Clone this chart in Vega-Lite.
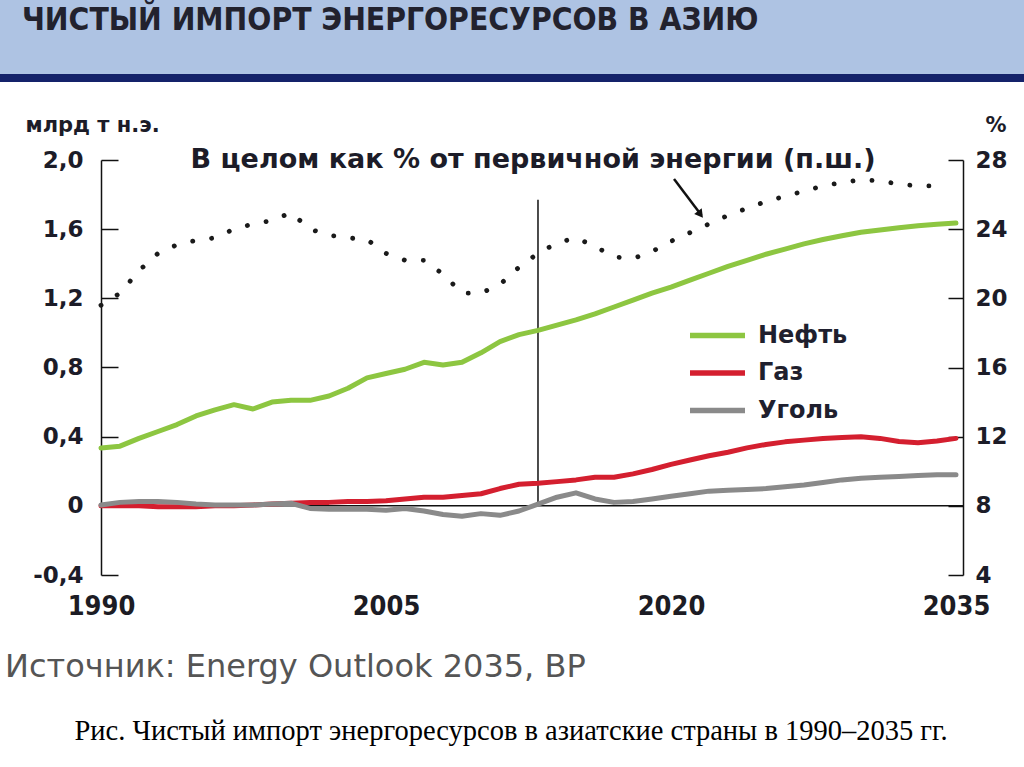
{
  "$schema": "https://vega.github.io/schema/vega-lite/v6.json",
  "width": 1024,
  "height": 415,
  "autosize": {"type": "none"},
  "padding": {"left": 0, "right": 0, "top": 160, "bottom": 192},
  "background": "white",
  "config": {
    "view": {"stroke": null},
    "axis": {"grid": false, "domainColor": "#111", "domainWidth": 1.5, "tickColor": "#111", "tickWidth": 1.5},
    "font": "DejaVu Sans"
  },
  "datasets": {
    "fuels": [
      {"year": 1990, "series": "Нефть", "value": 0.335}, {"year": 1991, "series": "Нефть", "value": 0.345},
      {"year": 1992, "series": "Нефть", "value": 0.39}, {"year": 1993, "series": "Нефть", "value": 0.43},
      {"year": 1994, "series": "Нефть", "value": 0.47}, {"year": 1995, "series": "Нефть", "value": 0.52},
      {"year": 1996, "series": "Нефть", "value": 0.555}, {"year": 1997, "series": "Нефть", "value": 0.585},
      {"year": 1998, "series": "Нефть", "value": 0.56}, {"year": 1999, "series": "Нефть", "value": 0.6},
      {"year": 2000, "series": "Нефть", "value": 0.61}, {"year": 2001, "series": "Нефть", "value": 0.61},
      {"year": 2002, "series": "Нефть", "value": 0.635}, {"year": 2003, "series": "Нефть", "value": 0.68},
      {"year": 2004, "series": "Нефть", "value": 0.74}, {"year": 2005, "series": "Нефть", "value": 0.765},
      {"year": 2006, "series": "Нефть", "value": 0.79}, {"year": 2007, "series": "Нефть", "value": 0.83},
      {"year": 2008, "series": "Нефть", "value": 0.815}, {"year": 2009, "series": "Нефть", "value": 0.83},
      {"year": 2010, "series": "Нефть", "value": 0.885}, {"year": 2011, "series": "Нефть", "value": 0.95},
      {"year": 2012, "series": "Нефть", "value": 0.99}, {"year": 2013, "series": "Нефть", "value": 1.015},
      {"year": 2014, "series": "Нефть", "value": 1.045}, {"year": 2015, "series": "Нефть", "value": 1.075},
      {"year": 2016, "series": "Нефть", "value": 1.11}, {"year": 2017, "series": "Нефть", "value": 1.15},
      {"year": 2018, "series": "Нефть", "value": 1.19}, {"year": 2019, "series": "Нефть", "value": 1.23},
      {"year": 2020, "series": "Нефть", "value": 1.265}, {"year": 2021, "series": "Нефть", "value": 1.305},
      {"year": 2022, "series": "Нефть", "value": 1.345}, {"year": 2023, "series": "Нефть", "value": 1.385},
      {"year": 2024, "series": "Нефть", "value": 1.42}, {"year": 2025, "series": "Нефть", "value": 1.455},
      {"year": 2026, "series": "Нефть", "value": 1.485}, {"year": 2027, "series": "Нефть", "value": 1.515},
      {"year": 2028, "series": "Нефть", "value": 1.54}, {"year": 2029, "series": "Нефть", "value": 1.562},
      {"year": 2030, "series": "Нефть", "value": 1.582}, {"year": 2031, "series": "Нефть", "value": 1.595},
      {"year": 2032, "series": "Нефть", "value": 1.608}, {"year": 2033, "series": "Нефть", "value": 1.62},
      {"year": 2034, "series": "Нефть", "value": 1.628}, {"year": 2035, "series": "Нефть", "value": 1.635},
      {"year": 1990, "series": "Газ", "value": 0.0}, {"year": 1991, "series": "Газ", "value": 0.0},
      {"year": 1992, "series": "Газ", "value": 0.0}, {"year": 1993, "series": "Газ", "value": -0.005},
      {"year": 1994, "series": "Газ", "value": -0.005}, {"year": 1995, "series": "Газ", "value": -0.005},
      {"year": 1996, "series": "Газ", "value": 0.0}, {"year": 1997, "series": "Газ", "value": 0.0},
      {"year": 1998, "series": "Газ", "value": 0.005}, {"year": 1999, "series": "Газ", "value": 0.01},
      {"year": 2000, "series": "Газ", "value": 0.015}, {"year": 2001, "series": "Газ", "value": 0.02},
      {"year": 2002, "series": "Газ", "value": 0.02}, {"year": 2003, "series": "Газ", "value": 0.025},
      {"year": 2004, "series": "Газ", "value": 0.025}, {"year": 2005, "series": "Газ", "value": 0.03},
      {"year": 2006, "series": "Газ", "value": 0.04}, {"year": 2007, "series": "Газ", "value": 0.05},
      {"year": 2008, "series": "Газ", "value": 0.05}, {"year": 2009, "series": "Газ", "value": 0.06},
      {"year": 2010, "series": "Газ", "value": 0.07}, {"year": 2011, "series": "Газ", "value": 0.1},
      {"year": 2012, "series": "Газ", "value": 0.125}, {"year": 2013, "series": "Газ", "value": 0.13},
      {"year": 2014, "series": "Газ", "value": 0.14}, {"year": 2015, "series": "Газ", "value": 0.15},
      {"year": 2016, "series": "Газ", "value": 0.165}, {"year": 2017, "series": "Газ", "value": 0.165},
      {"year": 2018, "series": "Газ", "value": 0.185}, {"year": 2019, "series": "Газ", "value": 0.21},
      {"year": 2020, "series": "Газ", "value": 0.24}, {"year": 2021, "series": "Газ", "value": 0.265},
      {"year": 2022, "series": "Газ", "value": 0.29}, {"year": 2023, "series": "Газ", "value": 0.31},
      {"year": 2024, "series": "Газ", "value": 0.335}, {"year": 2025, "series": "Газ", "value": 0.355},
      {"year": 2026, "series": "Газ", "value": 0.37}, {"year": 2027, "series": "Газ", "value": 0.38},
      {"year": 2028, "series": "Газ", "value": 0.39}, {"year": 2029, "series": "Газ", "value": 0.395},
      {"year": 2030, "series": "Газ", "value": 0.4}, {"year": 2031, "series": "Газ", "value": 0.39},
      {"year": 2032, "series": "Газ", "value": 0.372}, {"year": 2033, "series": "Газ", "value": 0.365},
      {"year": 2034, "series": "Газ", "value": 0.375}, {"year": 2035, "series": "Газ", "value": 0.39},
      {"year": 1990, "series": "Уголь", "value": 0.005}, {"year": 1991, "series": "Уголь", "value": 0.02},
      {"year": 1992, "series": "Уголь", "value": 0.025}, {"year": 1993, "series": "Уголь", "value": 0.025},
      {"year": 1994, "series": "Уголь", "value": 0.02}, {"year": 1995, "series": "Уголь", "value": 0.01},
      {"year": 1996, "series": "Уголь", "value": 0.005}, {"year": 1997, "series": "Уголь", "value": 0.005},
      {"year": 1998, "series": "Уголь", "value": 0.005}, {"year": 1999, "series": "Уголь", "value": 0.01},
      {"year": 2000, "series": "Уголь", "value": 0.015}, {"year": 2001, "series": "Уголь", "value": -0.015},
      {"year": 2002, "series": "Уголь", "value": -0.02}, {"year": 2003, "series": "Уголь", "value": -0.02},
      {"year": 2004, "series": "Уголь", "value": -0.02}, {"year": 2005, "series": "Уголь", "value": -0.025},
      {"year": 2006, "series": "Уголь", "value": -0.015}, {"year": 2007, "series": "Уголь", "value": -0.03},
      {"year": 2008, "series": "Уголь", "value": -0.05}, {"year": 2009, "series": "Уголь", "value": -0.06},
      {"year": 2010, "series": "Уголь", "value": -0.045}, {"year": 2011, "series": "Уголь", "value": -0.055},
      {"year": 2012, "series": "Уголь", "value": -0.03}, {"year": 2013, "series": "Уголь", "value": 0.01},
      {"year": 2014, "series": "Уголь", "value": 0.05}, {"year": 2015, "series": "Уголь", "value": 0.075},
      {"year": 2016, "series": "Уголь", "value": 0.04}, {"year": 2017, "series": "Уголь", "value": 0.02},
      {"year": 2018, "series": "Уголь", "value": 0.025}, {"year": 2019, "series": "Уголь", "value": 0.04},
      {"year": 2020, "series": "Уголь", "value": 0.055}, {"year": 2021, "series": "Уголь", "value": 0.07},
      {"year": 2022, "series": "Уголь", "value": 0.085}, {"year": 2023, "series": "Уголь", "value": 0.09},
      {"year": 2024, "series": "Уголь", "value": 0.095}, {"year": 2025, "series": "Уголь", "value": 0.1},
      {"year": 2026, "series": "Уголь", "value": 0.11}, {"year": 2027, "series": "Уголь", "value": 0.12},
      {"year": 2028, "series": "Уголь", "value": 0.135}, {"year": 2029, "series": "Уголь", "value": 0.15},
      {"year": 2030, "series": "Уголь", "value": 0.16}, {"year": 2031, "series": "Уголь", "value": 0.165},
      {"year": 2032, "series": "Уголь", "value": 0.17}, {"year": 2033, "series": "Уголь", "value": 0.175},
      {"year": 2034, "series": "Уголь", "value": 0.18}, {"year": 2035, "series": "Уголь", "value": 0.18}
    ],
    "share": [
      {"year": 1990, "pct": 19.6}, {"year": 1991, "pct": 20.3}, {"year": 1992, "pct": 21.6},
      {"year": 1993, "pct": 22.6}, {"year": 1994, "pct": 23.1}, {"year": 1995, "pct": 23.35},
      {"year": 1996, "pct": 23.5}, {"year": 1997, "pct": 24.0}, {"year": 1998, "pct": 24.3},
      {"year": 1999, "pct": 24.5}, {"year": 2000, "pct": 24.95}, {"year": 2001, "pct": 24.0},
      {"year": 2002, "pct": 23.65}, {"year": 2003, "pct": 23.5}, {"year": 2004, "pct": 23.4},
      {"year": 2005, "pct": 22.6}, {"year": 2006, "pct": 22.2}, {"year": 2007, "pct": 22.2},
      {"year": 2008, "pct": 21.4}, {"year": 2009, "pct": 20.3}, {"year": 2010, "pct": 20.3},
      {"year": 2011, "pct": 20.8}, {"year": 2012, "pct": 21.8}, {"year": 2013, "pct": 22.6},
      {"year": 2014, "pct": 23.2}, {"year": 2015, "pct": 23.5}, {"year": 2016, "pct": 23.0},
      {"year": 2017, "pct": 22.4}, {"year": 2018, "pct": 22.3}, {"year": 2019, "pct": 22.7},
      {"year": 2020, "pct": 23.3}, {"year": 2021, "pct": 23.8}, {"year": 2022, "pct": 24.3},
      {"year": 2023, "pct": 24.8}, {"year": 2024, "pct": 25.2}, {"year": 2025, "pct": 25.6},
      {"year": 2026, "pct": 25.9}, {"year": 2027, "pct": 26.2}, {"year": 2028, "pct": 26.5},
      {"year": 2029, "pct": 26.7}, {"year": 2030, "pct": 26.85}, {"year": 2031, "pct": 26.8},
      {"year": 2032, "pct": 26.6}, {"year": 2033, "pct": 26.5}, {"year": 2034, "pct": 26.5}
    ]
  },
  "layer": [
    {
      "layer": [
        {
          "data": {"values": [{}]},
          "mark": {"type": "rect", "color": "#aec3e3"},
          "encoding": {
            "x": {"datum": 1980, "type": "quantitative"},
            "x2": {"datum": 2045},
            "y": {"datum": 2.497, "type": "quantitative"},
            "y2": {"datum": 3.5}
          }
        },
        {
          "data": {"values": [{}]},
          "mark": {"type": "rect", "color": "#14226a"},
          "encoding": {
            "x": {"datum": 1980, "type": "quantitative"},
            "x2": {"datum": 2045},
            "y": {"datum": 2.451, "type": "quantitative"},
            "y2": {"datum": 2.497}
          }
        },
        {
          "data": {"values": [{}]},
          "mark": {"type": "text", "text": "ЧИСТЫЙ ИМПОРТ ЭНЕРГОРЕСУРСОВ В АЗИЮ", "align": "left", "baseline": "middle", "font": "DejaVu Sans Condensed", "fontWeight": "bold", "fontSize": 31.5, "color": "#22222e"},
          "encoding": {
            "x": {"datum": 1985.84, "type": "quantitative"},
            "y": {"datum": 2.806, "type": "quantitative"}
          }
        },
        {
          "data": {"values": [{}]},
          "mark": {"type": "rule", "color": "#111", "strokeWidth": 1.5},
          "encoding": {
            "x": {"datum": 1990, "type": "quantitative"},
            "x2": {"datum": 2035.4},
            "y": {"datum": 0, "type": "quantitative"}
          }
        },
        {
          "data": {"values": [{}]},
          "mark": {"type": "rule", "color": "#111", "strokeWidth": 1.5},
          "encoding": {
            "x": {"datum": 2013, "type": "quantitative"},
            "y": {"datum": 0, "type": "quantitative"},
            "y2": {"datum": 1.77}
          }
        },
        {
          "data": {"name": "fuels"},
          "mark": {"type": "line", "strokeWidth": 5, "strokeCap": "round", "strokeJoin": "round"},
          "encoding": {
            "x": {
              "field": "year", "type": "quantitative",
              "scale": {"domain": [1984.684, 2038.58], "nice": false, "zero": false},
              "axis": {
                "values": [1990, 2005, 2020, 2035], "format": "d", "title": null,
                "domain": false, "ticks": false, "labelPadding": 18,
                "labelFont": "DejaVu Sans Condensed", "labelFontWeight": "bold", "labelFontSize": 27,
                "labelColor": "#1c1c24"
              }
            },
            "y": {
              "field": "value", "type": "quantitative",
              "scale": {"domain": [-0.4, 2.0], "nice": false, "zero": false},
              "axis": {
                "orient": "left", "offset": -101,
                "values": [-0.4, 0, 0.4, 0.8, 1.2, 1.6, 2.0],
                "labelExpr": "datum.value == 0 ? '0' : replace(replace(format(datum.value, '.1f'), '.', ','), '−', '-')",
                "tickSize": -17, "labelPadding": 35,
                "labelFontWeight": "bold", "labelFontSize": 23, "labelColor": "#1c1c28",
                "title": "млрд т н.э.", "titleAngle": 0, "titleAlign": "left", "titleBaseline": "middle",
                "titleX": -76, "titleY": -35, "titleFontSize": 21, "titleFontWeight": "bold", "titleColor": "#1c1c28"
              }
            },
            "color": {
              "field": "series", "type": "nominal",
              "scale": {"domain": ["Нефть", "Газ", "Уголь"], "range": ["#8dc641", "#d41f2f", "#8a8a8a"]},
              "legend": {
                "orient": "none", "legendX": 701, "legendY": 159, "title": null, "padding": 0,
                "symbolType": "M-2,0H2", "symbolSize": 756, "symbolStrokeWidth": 5.5,
                "labelOffset": 24, "rowPadding": 8.5,
                "labelFontSize": 24, "labelFontWeight": "bold", "labelColor": "#1f1f2e"
              }
            }
          }
        },
        {
          "data": {"values": [{}]},
          "mark": {"type": "text", "text": "Источник: Energy Outlook 2035, BP", "align": "left", "baseline": "middle", "font": "DejaVu Sans", "fontSize": 32, "color": "#555555"},
          "encoding": {
            "x": {"datum": 1984.95, "type": "quantitative"},
            "y": {"datum": -0.93, "type": "quantitative"}
          }
        },
        {
          "data": {"values": [{}]},
          "mark": {"type": "text", "text": "Рис. Чистый импорт энергоресурсов в азиатские страны в 1990–2035 гг.", "align": "center", "baseline": "middle", "font": "Liberation Serif", "fontSize": 28.5, "color": "#000000"},
          "encoding": {
            "x": {"datum": 2011.58, "type": "quantitative"},
            "y": {"datum": -1.3, "type": "quantitative"}
          }
        }
      ]
    },
    {
      "layer": [
        {
          "data": {"name": "share"},
          "mark": {"type": "line", "color": "#1a1a1a", "strokeWidth": 4.8, "strokeCap": "round", "strokeDash": [0.1, 19]},
          "encoding": {
            "x": {"field": "year", "type": "quantitative"},
            "y": {
              "field": "pct", "type": "quantitative",
              "scale": {"domain": [4, 28], "nice": false, "zero": false},
              "axis": {
                "orient": "right", "offset": -61,
                "values": [4, 8, 12, 16, 20, 24, 28], "format": "d",
                "tickSize": -15, "labelPadding": 27,
                "labelFontWeight": "bold", "labelFontSize": 23, "labelColor": "#1c1c28",
                "title": "%", "titleAngle": 0, "titleAlign": "left", "titleBaseline": "middle",
                "titleX": 22, "titleY": -35, "titleFontSize": 21, "titleFontWeight": "bold", "titleColor": "#1c1c28"
              }
            }
          }
        },
        {
          "data": {"values": [{}]},
          "mark": {"type": "text", "text": "В целом как % от первичной энергии (п.ш.)", "align": "center", "baseline": "middle", "fontWeight": "bold", "fontSize": 27, "color": "#1c1c28"},
          "encoding": {
            "x": {"datum": 2012.74, "type": "quantitative"},
            "y": {"datum": 28, "type": "quantitative"}
          }
        },
        {
          "data": {"values": [{}]},
          "mark": {"type": "rule", "color": "#111", "strokeWidth": 2.5},
          "encoding": {
            "x": {"datum": 2020.16, "type": "quantitative"},
            "x2": {"datum": 2021.6},
            "y": {"datum": 26.9, "type": "quantitative"},
            "y2": {"datum": 24.8}
          }
        },
        {
          "data": {"values": [{}]},
          "mark": {"type": "point", "shape": "triangle-down", "filled": true, "color": "#111", "size": 90, "angle": 323, "opacity": 1},
          "encoding": {
            "x": {"datum": 2021.55, "type": "quantitative"},
            "y": {"datum": 24.85, "type": "quantitative"}
          }
        }
      ]
    }
  ],
  "resolve": {"scale": {"y": "independent"}}
}
